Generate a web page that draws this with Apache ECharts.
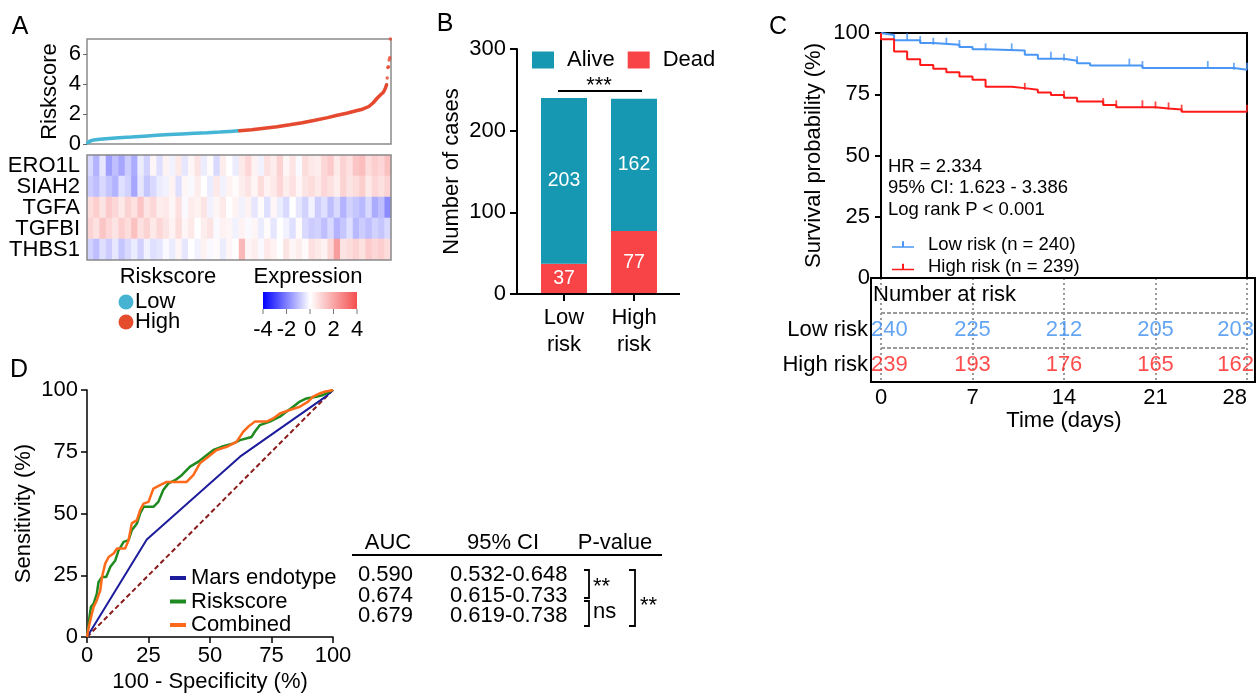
<!DOCTYPE html>
<html style="height: 100%">
<head>
    <meta charset="utf-8">
    <script src="https://cdn.jsdelivr.net/npm/echarts@6/dist/echarts.min.js"></script>
    <title>Riskscore figure</title>
</head>
<body style="height: 100%; margin: 0; background: #fff">
<div id="container" style="width: 1257px; height: 695px"></div>
<script type="text/javascript">

    // ---- A: riskscore sorted by rank ----
    let lowRank = [1, 5, 10, 20, 35, 50, 70, 90, 110, 130, 150, 170, 190, 210, 225, 240]
    let lowScore = [0.08, 0.2, 0.26, 0.31, 0.36, 0.41, 0.46, 0.52, 0.58, 0.63, 0.67, 0.71, 0.75, 0.8, 0.84, 0.88]
    let highRank = [241, 260, 280, 300, 320, 340, 360, 380, 395, 410, 425, 435, 445, 452, 458, 464, 468, 471, 473]
    let highScore = [0.89, 0.95, 1.05, 1.15, 1.28, 1.42, 1.58, 1.76, 1.92, 2.05, 2.22, 2.32, 2.5, 2.75, 3.05, 3.3, 3.45, 3.7, 3.95]
    let outRank = [474, 475, 476, 477, 478, 479]
    let outScore = [4.4, 5.1, 5.15, 5.6, 5.75, 7.0]

    // ---- A: heatmap (48 column bins, low -> high riskscore) ----
    let genes = ['ERO1L', 'SIAH2', 'TGFA', 'TGFBI', 'THBS1']
    let ero1l = [-0.6, -1.2, -0.4, -1.5, -1.0, -1.4, -0.8, -1.3, -0.3, -0.7, 0.2, -0.5,
        0.3, -0.2, 0.5, -0.4, 0.2, 0.6, -0.3, 0.1, -0.6, 0.4, 0.0, -0.3,
        0.5, 0.9, 0.3, -0.2, 0.7, 0.4, 1.0, 0.2, 0.6, -0.1, 0.8, 0.5,
        0.4, 0.9, 1.2, 0.5, 1.0, 0.7, 1.3, 1.5, 0.8, 1.1, 0.9, 1.4]
    let siah2 = [-0.8, -1.0, -0.6, -0.9, -1.2, -0.5, -0.7, -1.4, -0.4, -0.9, -0.6, -0.3,
        -0.2, 0.3, -0.5, 0.2, -0.1, 0.4, 0.0, -0.3, 0.5, -0.2, 0.3, 0.1,
        0.4, 0.6, 0.2, 0.8, 0.3, 0.5, 0.9, 0.4, 0.7, 0.2, 0.6, 0.8,
        0.5, 0.9, 0.7, 0.4, 1.0, 0.6, 0.8, 1.1, 0.5, 0.9, 0.7, 1.0]
    let tgfa = [0.8, 1.1, 0.6, 1.2, 0.9, 0.5, 1.0, 0.7, 1.3, 0.6, 0.9, 0.4,
        0.5, 0.2, 0.7, -0.1, 0.4, 0.3, 0.6, -0.2, 0.2, 0.5, 0.0, 0.3,
        -0.2, 0.3, -0.4, 0.1, -0.5, 0.2, -0.3, -0.6, 0.0, -0.4, -0.7, -0.2,
        -0.8, -0.5, -1.0, -0.6, -1.2, -0.7, -0.9, -1.1, -0.6, -1.3, -1.0, -1.8]
    let tgfbi = [1.0, 0.7, 1.3, 0.9, 0.6, 1.1, 0.8, 1.4, 0.7, 1.0, 0.5, 0.9,
        0.6, 0.3, 0.8, 0.2, 0.5, 0.0, 0.4, 0.6, -0.1, 0.3, 0.2, -0.2,
        0.3, -0.1, 0.2, -0.3, 0.1, -0.4, 0.0, -0.2, -0.5, 0.1, -0.6, -0.8,
        -0.7, -1.0, -0.6, -1.2, -0.9, -0.5, -1.1, -0.8, -1.0, -0.7, -0.9, -0.6]
    let thbs1 = [-0.7, -1.0, -0.5, -0.8, -0.4, -0.9, -0.6, -0.3, -0.7, -0.2, -0.5, -0.4,
        -0.1, -0.3, 0.2, -0.4, 0.0, -0.2, 0.3, -0.1, 0.1, -0.3, 0.2, 0.0,
        1.6, 0.2, 0.4, -0.1, 0.5, 0.3, 0.0, 0.6, 0.2, 0.4, 0.1, 0.7,
        0.5, 0.3, 0.9, 2.2, 0.6, 0.8, 1.0, 0.7, 1.2, 0.9, 1.1, 0.8]
    let exprTicks = ['-4', '-2', '0', '2', '4']

    // ---- B: outcome by risk group ----
    let groups = ['Low\nrisk', 'High\nrisk']
    let alive = [203, 162]
    let dead = [37, 77]

    // ---- C: Kaplan-Meier ----
    let lowDay = [0, 0, 1, 3, 4, 6, 7, 8, 11, 12, 14, 15, 16, 20, 27, 28]
    let lowSurv = [100, 99.2, 97.0, 95.9, 95.2, 94.3, 93.4, 92.9, 91.1, 89.5, 88.7, 87.7, 86.7, 85.7, 85.0, 85.0]
    let highDay = [0, 0, 1, 2, 3, 4, 5, 6, 7, 8, 10, 11, 12, 13, 14, 15, 17, 18, 21, 22, 23, 28]
    let highSurv = [100, 97.5, 92.5, 89.3, 86.9, 85.4, 84.0, 82.2, 80.9, 78.1, 77.5, 76.8, 75.7, 74.7, 73.6, 72.0, 70.6, 69.7, 69.2, 68.8, 67.9, 67.9]
    let lowCensor = [2, 3, 4, 5, 6, 8, 10, 13, 14, 15, 19, 20, 25, 27, 28]
    let highCensor = [11, 14, 17, 18, 20, 21, 22, 23, 28]
    let riskDays = [0, 7, 14, 21, 28]
    let lowAtRisk = [240, 225, 212, 205, 203]
    let highAtRisk = [239, 193, 176, 165, 162]
    let tableRows = ['High risk', 'Low risk', '']

    // ---- D: ROC ----
    let marsFpr = [0, 24.3, 62.2, 96.6, 100]
    let marsTpr = [0, 39.5, 73, 97, 100]
    let riskFpr = [0, 0.7, 1.1, 1.6, 2.7, 4, 4.7, 6.1, 7.8, 9.5, 11.5, 12.8, 14.9, 16.9, 18.2, 20.3, 21.6, 23, 27, 29, 31, 33.1, 35.8, 38.5, 41.9, 45.3, 48.6, 51.4, 54.7, 59.5, 62.2, 66.9, 68.2, 70.3, 74.3, 78.4, 81, 83.8, 86.5, 89.2, 93.2, 96, 98.6, 100]
    let riskTpr = [0, 5.4, 8.8, 12.2, 13.5, 17.6, 22.3, 24.3, 24.3, 28.4, 31, 35, 38.5, 39.2, 43.2, 46, 50, 52.7, 52.7, 54.7, 59.5, 62.2, 63.5, 65.5, 69, 71, 73.6, 75.7, 77, 78.4, 79.7, 81, 83.1, 85.8, 87.2, 89.2, 91.2, 93.2, 95.3, 96.6, 97.3, 98, 99.3, 100]
    let comboFpr = [0, 0.7, 2, 2.7, 4, 5.4, 6.1, 7.4, 8.8, 10.8, 12.2, 15.5, 16.9, 18.2, 20.3, 21.6, 23, 25, 27, 29.7, 32.4, 40.5, 43.2, 45.9, 49.3, 52.7, 56.8, 60.8, 63.5, 65.5, 68.2, 73, 75.7, 78.4, 82.4, 86.5, 89.9, 91.9, 94.6, 96.6, 100]
    let comboTpr = [0, 4, 9.5, 12.2, 14.9, 18.9, 24.3, 29.7, 32.4, 33.8, 35.8, 35.8, 39.2, 46, 47.3, 51.4, 54, 54.7, 60.1, 61.5, 62.8, 62.8, 65.5, 70.3, 73, 75.7, 77, 79, 83.1, 85.1, 87.2, 87.2, 88.5, 90.5, 91.9, 93.2, 95.3, 97.3, 98.6, 99.3, 100]
    let aucValues = ['0.590', '0.674', '0.679']
    let ciValues = ['0.532-0.648', '0.615-0.733', '0.619-0.738']

    const font = 'Arial, "Liberation Sans", sans-serif'
    const blueKM = '#4a96f5', redKM = '#ff1a1a'

    function zip(a, b) { return a.map((v, i) => [v, b[i]]) }
    function survAt(days, surv, d) {
        let s = surv[0]
        for (let i = 0; i < days.length; i++) { if (days[i] <= d) s = surv[i] }
        return s
    }

    let heatData = []
    let exprRows = [ero1l, siah2, tgfa, tgfbi, thbs1]
    exprRows.forEach((row, g) => row.forEach((v, c) => heatData.push([c, g, v])))
    let heatCols = ero1l.map((v, i) => i)

    function atRiskItems(counts, row) {
        let last = counts.length - 1
        return counts.map((n, i) => ({
            value: [riskDays[i], row, n],
            label: i === 0 ? {align: 'left', offset: [-10, 0]} : (i === last ? {align: 'right', offset: [7, 0]} : {})
        }))
    }

    // ---- plain text / decoration ----
    let graphics = []
    function txt(x, y, s, size, align, color) {
        graphics.push({type: 'text', x: x, y: y, z: 100, silent: true,
            style: {text: s, fontSize: size, fontFamily: font, fill: color || '#000', align: align || 'left', verticalAlign: 'middle'}})
    }
    function line(points, width, color) {
        graphics.push({type: 'polyline', z: 100, silent: true, shape: {points: points},
            style: {stroke: color || '#000', lineWidth: width || 2, fill: null}})
    }
    // panel letters
    txt(20, 27, 'A', 25, 'center'); txt(445, 24, 'B', 25, 'center')
    txt(778, 27, 'C', 25, 'center'); txt(19, 370, 'D', 25, 'center')
    // A legends
    graphics.push({type: 'rect', z: 100, silent: true, shape: {x: 87, y: 155, width: 304, height: 105}, style: {fill: null, stroke: '#8a8a8a', lineWidth: 1.5}})
    txt(168, 277, 'Riskscore', 22, 'center')
    graphics.push({type: 'circle', z: 100, shape: {cx: 126, cy: 302, r: 7.5}, style: {fill: '#45b3d1'}})
    graphics.push({type: 'circle', z: 100, shape: {cx: 126, cy: 322, r: 7.5}, style: {fill: '#e44c2c'}})
    txt(135, 302, 'Low', 22); txt(135, 322, 'High', 22)
    txt(308, 277, 'Expression', 22, 'center')
    graphics.push({type: 'rect', z: 100, silent: true, shape: {x: 263, y: 292, width: 94, height: 17},
        style: {fill: {type: 'linear', x: 0, y: 0, x2: 1, y2: 0, colorStops: [
            {offset: 0, color: '#0000ff'}, {offset: 0.5, color: '#ffffff'}, {offset: 1, color: '#f44e4e'}]}}})
    exprTicks.forEach((t, i) => {
        let x = 263 + i * 23.5
        line([[x, 309], [x, 314]], 1, '#777')
        txt(x, 330, t, 22, 'center')
    })
    // B extras
    line([[517, 294], [680, 294]], 2)
    line([[558, 91], [642, 91]], 2)
    txt(599, 86, '***', 22, 'center')
    // C extras
    txt(888, 167, 'HR = 2.334', 18.5)
    txt(888, 188, '95% CI: 1.623 - 3.386', 18.5)
    txt(888, 210, 'Log rank P < 0.001', 18.5)
    graphics.push({type: 'rect', z: 100, silent: true, shape: {x: 871, y: 278, width: 384, height: 104}, style: {fill: null, stroke: '#000', lineWidth: 2}})
    txt(873, 295, 'Number at risk', 22)
    // D table
    txt(388, 543, 'AUC', 22, 'center'); txt(503, 543, '95% CI', 22, 'center'); txt(615, 543, 'P-value', 22, 'center')
    line([[352, 555], [662, 555]], 2)
    let rowY = [575, 595.5, 616]
    aucValues.forEach((v, i) => { txt(358, rowY[i], v, 22); txt(450, rowY[i], ciValues[i], 22) })
    line([[584, 570], [589, 570], [589, 598], [584, 598]], 1.8)
    line([[584, 601], [589, 601], [589, 626], [584, 626]], 1.8)
    line([[629, 570], [635, 570], [635, 626], [629, 626]], 1.8)
    txt(593, 587, '**', 22); txt(593, 612, 'ns', 22); txt(640, 606, '**', 22)

    let dom = document.getElementById('container')
    let chart = echarts.init(dom)
    let axisText = {fontSize: 22, color: '#000', fontFamily: font}
    let blackLine = {color: '#000', width: 2}

    chart.setOption({
        animation: false,
        backgroundColor: '#fff',
        textStyle: {fontFamily: font, color: '#000'},
        grid: [
            {left: 87, top: 39, width: 304, height: 105, show: true, borderColor: '#8a8a8a', borderWidth: 1.5, outerBoundsMode: 'none'},
            {left: 87, top: 155, width: 304, height: 105, outerBoundsMode: 'none'},
            {left: 529, top: 49, width: 140, height: 245, outerBoundsMode: 'none'},
            {left: 881, top: 33, width: 366, height: 245, show: true, borderColor: '#000', borderWidth: 2, outerBoundsMode: 'none'},
            {left: 87, top: 390, width: 246, height: 247, outerBoundsMode: 'none'},
            {left: 881, top: 278, width: 366, height: 104, outerBoundsMode: 'none'}
        ],
        xAxis: [
            {gridIndex: 0, type: 'value', min: 0, max: 480, show: false},
            {gridIndex: 1, type: 'category', data: heatCols, show: false},
            {gridIndex: 2, type: 'category', data: groups, axisLine: {show: false},
                axisTick: {show: true, alignWithLabel: true, length: 7, lineStyle: blackLine},
                axisLabel: Object.assign({margin: 10, lineHeight: 27}, axisText)},
            {gridIndex: 3, type: 'value', min: 0, max: 28, show: false},
            {gridIndex: 4, type: 'value', min: 0, max: 100, interval: 25,
                axisLine: {show: true, lineStyle: {color: '#000', width: 1.5}},
                axisTick: {show: true, length: 6, lineStyle: {color: '#000', width: 1.5}},
                axisLabel: Object.assign({margin: 8}, axisText), splitLine: {show: false},
                name: '100 - Specificity (%)', nameLocation: 'middle', nameGap: 34, nameTextStyle: axisText},
            {gridIndex: 5, type: 'value', min: 0, max: 28, interval: 7,
                axisLine: {show: false}, axisTick: {show: false},
                axisLabel: Object.assign({margin: 5, alignMaxLabel: 'right'}, axisText),
                splitLine: {show: true, lineStyle: {color: '#9a9a9a', width: 2, type: [2, 3]}},
                name: 'Time (days)', nameLocation: 'middle', nameGap: 28, nameTextStyle: axisText}
        ],
        yAxis: [
            {gridIndex: 0, type: 'value', min: 0, max: 7, interval: 2, axisLine: {show: false},
                axisTick: {show: true, length: 4, lineStyle: {color: '#666'}},
                axisLabel: Object.assign({margin: 6}, axisText), splitLine: {show: false},
                name: 'Riskscore', nameLocation: 'middle', nameGap: 26, nameTextStyle: axisText},
            {gridIndex: 1, type: 'category', data: genes, inverse: true, axisLine: {show: false},
                axisTick: {show: false}, axisLabel: Object.assign({margin: 7, interval: 0, hideOverlap: false}, axisText)},
            {gridIndex: 2, type: 'value', min: 0, max: 300, interval: 100, offset: 12,
                axisLine: {show: true, lineStyle: blackLine},
                axisTick: {show: true, length: 7, lineStyle: blackLine},
                axisLabel: Object.assign({margin: 11}, axisText), splitLine: {show: false},
                name: 'Number of cases', nameLocation: 'middle', nameGap: 54, nameTextStyle: axisText},
            {gridIndex: 3, type: 'value', min: 0, max: 100, interval: 25,
                axisLine: {show: true, lineStyle: blackLine},
                axisTick: {show: true, length: 6, lineStyle: blackLine},
                axisLabel: Object.assign({margin: 11}, axisText), splitLine: {show: false},
                name: 'Survival probability (%)', nameLocation: 'middle', nameGap: 56, nameTextStyle: axisText},
            {gridIndex: 4, type: 'value', min: 0, max: 100, interval: 25,
                axisLine: {show: true, lineStyle: {color: '#000', width: 1.5}},
                axisTick: {show: true, length: 6, lineStyle: {color: '#000', width: 1.5}},
                axisLabel: Object.assign({margin: 9}, axisText), splitLine: {show: false},
                name: 'Sensitivity (%)', nameLocation: 'middle', nameGap: 52, nameTextStyle: axisText},
            {gridIndex: 5, type: 'category', data: tableRows, axisLine: {show: false}, axisTick: {show: false},
                axisLabel: Object.assign({margin: 13, interval: 0}, axisText),
                splitLine: {show: true, interval: 0, lineStyle: {color: '#9a9a9a', width: 2, type: [4, 2]}}}
        ],
        visualMap: {show: false, seriesIndex: 3, min: -4, max: 4,
            inRange: {color: ['#0000ff', '#ffffff', '#f44e4e']}},
        legend: [
            {data: ['Alive', 'Dead'], left: 527, top: 44, icon: 'rect', itemWidth: 22, itemHeight: 17, itemGap: 13,
                itemStyle: {borderWidth: 0}, textStyle: {fontSize: 22, color: '#000', padding: [0, 0, 0, 8]}},
            {data: ['Low risk (n = 240)', 'High risk (n = 239)'], orient: 'vertical', left: 887, top: 230,
                icon: 'path://M0,5h22v1.6h-22z M10,0h2v5h-2z', itemWidth: 22, itemHeight: 7, itemGap: 3.5,
                itemStyle: {borderWidth: 0}, textStyle: {fontSize: 18.5, color: '#000', padding: [0, 0, 0, 9]}},
            {data: ['Mars endotype', 'Riskscore', 'Combined'], orient: 'vertical', left: 165, top: 562,
                icon: 'rect', itemWidth: 16, itemHeight: 4, itemGap: 1.5,
                itemStyle: {borderWidth: 0}, textStyle: {fontSize: 22, color: '#000'}}
        ],
        series: [
            {name: 'Low', type: 'line', xAxisIndex: 0, yAxisIndex: 0, data: zip(lowRank, lowScore), showSymbol: false,
                lineStyle: {color: '#45b5d5', width: 3.5, cap: 'round'}, itemStyle: {color: '#45b5d5'}},
            {name: 'High', type: 'line', xAxisIndex: 0, yAxisIndex: 0, data: zip(highRank, highScore), showSymbol: false,
                lineStyle: {color: '#e5492f', width: 3.5, cap: 'round'}, itemStyle: {color: '#e5492f'}},
            {name: 'High top', type: 'scatter', xAxisIndex: 0, yAxisIndex: 0, data: zip(outRank, outScore),
                symbolSize: 3.5, itemStyle: {color: '#e5492f'}},
            {name: 'Expression', type: 'heatmap', xAxisIndex: 1, yAxisIndex: 1, data: heatData},
            {name: 'Dead', type: 'bar', xAxisIndex: 2, yAxisIndex: 2, stack: 'n', data: dead, barWidth: 46,
                itemStyle: {color: '#f84446'},
                label: {show: true, position: 'inside', color: '#fff', fontSize: 19.5, textBorderWidth: 0}},
            {name: 'Alive', type: 'bar', xAxisIndex: 2, yAxisIndex: 2, stack: 'n', data: alive, barWidth: 46,
                itemStyle: {color: '#1798b2'},
                label: {show: true, position: 'inside', color: '#fff', fontSize: 19.5, textBorderWidth: 0}},
            {name: 'Low risk (n = 240)', type: 'line', step: 'end', xAxisIndex: 3, yAxisIndex: 3,
                data: zip(lowDay, lowSurv), showSymbol: false, lineStyle: {color: blueKM, width: 2}, itemStyle: {color: blueKM}},
            {name: 'High risk (n = 239)', type: 'line', step: 'end', xAxisIndex: 3, yAxisIndex: 3,
                data: zip(highDay, highSurv), showSymbol: false, lineStyle: {color: redKM, width: 2}, itemStyle: {color: redKM}},
            {name: 'low censor', type: 'scatter', xAxisIndex: 3, yAxisIndex: 3, silent: true,
                data: lowCensor.map(d => [d, survAt(lowDay, lowSurv, d)]),
                symbol: 'rect', symbolSize: [1.8, 7], symbolOffset: [0, -3.5], itemStyle: {color: blueKM}},
            {name: 'high censor', type: 'scatter', xAxisIndex: 3, yAxisIndex: 3, silent: true,
                data: highCensor.map(d => [d, survAt(highDay, highSurv, d)]),
                symbol: 'rect', symbolSize: [1.8, 7], symbolOffset: [0, -3.5], itemStyle: {color: redKM}},
            {name: 'low at risk', type: 'scatter', xAxisIndex: 5, yAxisIndex: 5, data: atRiskItems(lowAtRisk, 1),
                symbolSize: 1, itemStyle: {color: 'rgba(0,0,0,0)'},
                label: {show: true, position: 'inside', fontSize: 22, color: '#3d8ef0', formatter: p => p.value[2]}},
            {name: 'high at risk', type: 'scatter', xAxisIndex: 5, yAxisIndex: 5, data: atRiskItems(highAtRisk, 0),
                symbolSize: 1, itemStyle: {color: 'rgba(0,0,0,0)'},
                label: {show: true, position: 'inside', fontSize: 22, color: '#ff1f1f', formatter: p => p.value[2]}},
            {name: 'Reference', type: 'line', xAxisIndex: 4, yAxisIndex: 4, data: [[0, 0], [100, 100]], showSymbol: false,
                lineStyle: {color: '#8b1a1a', width: 2, type: [5, 3]}},
            {name: 'Mars endotype', type: 'line', xAxisIndex: 4, yAxisIndex: 4, data: zip(marsFpr, marsTpr), showSymbol: false,
                lineStyle: {color: '#1c1c9c', width: 2}, itemStyle: {color: '#1c1c9c'}},
            {name: 'Riskscore', type: 'line', xAxisIndex: 4, yAxisIndex: 4, data: zip(riskFpr, riskTpr), showSymbol: false,
                lineStyle: {color: '#1f8a1f', width: 2.5}, itemStyle: {color: '#1f8a1f'}},
            {name: 'Combined', type: 'line', xAxisIndex: 4, yAxisIndex: 4, data: zip(comboFpr, comboTpr), showSymbol: false,
                lineStyle: {color: '#ff6a1a', width: 2.5}, itemStyle: {color: '#ff6a1a'}}
        ],
        graphic: graphics
    }, true);

</script>
</body>
</html>
